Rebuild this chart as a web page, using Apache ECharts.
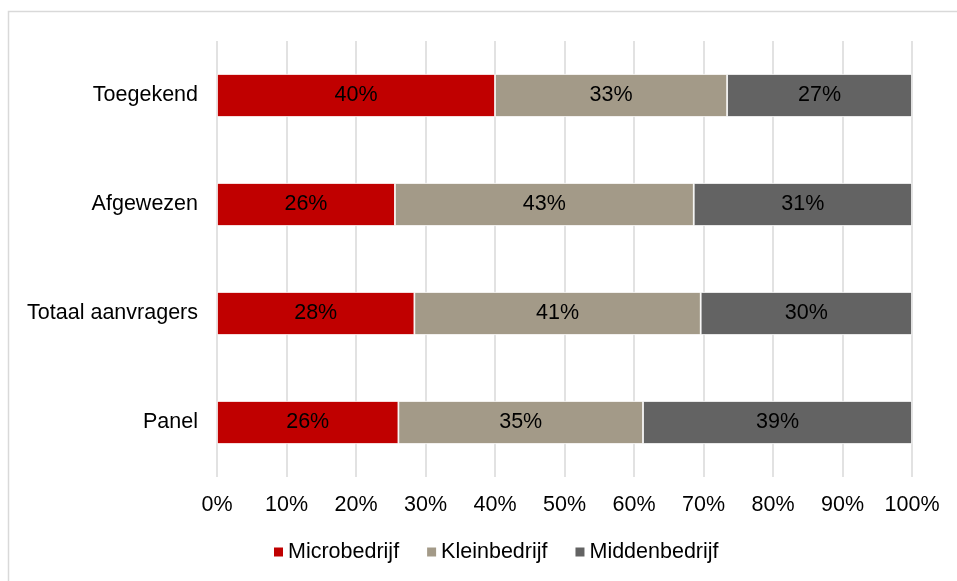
<!DOCTYPE html>
<html>
<head>
<meta charset="utf-8">
<script src="https://cdn.jsdelivr.net/npm/echarts@6/dist/echarts.min.js"></script>
<style>
html,body{margin:0;padding:0;background:#fff;}
#chart{width:957px;height:581px;}
</style>
</head>
<body>
<div id="chart"></div>
<script>
const categories = ['Toegekend', 'Afgewezen', 'Totaal aanvragers', 'Panel'];
const microbedrijf = [40.0, 25.6, 28.4, 26.1];
const kleinbedrijf = [33.4, 43.0, 41.2, 35.2];
const middenbedrijf = [26.6, 31.4, 30.4, 38.7];
const seriesNames = ['Microbedrijf', 'Kleinbedrijf', 'Middenbedrijf'];
const xTicks = [0, 10, 20, 30, 40, 50, 60, 70, 80, 90, 100];

const FONT = "'Liberation Sans', Arial, sans-serif";
const FS = 21.5;
const colors = ['#c00000', '#a39a88', '#636363'];
const chart = echarts.init(document.getElementById('chart'), null, {renderer: 'canvas'});

function mkSeries(name, data, color) {
  return {
    name: name,
    type: 'bar',
    stack: 'total',
    data: data,
    barWidth: 43,
    itemStyle: {color: color, borderColor: '#ffffff', borderWidth: 0.8},
    label: {
      show: true,
      position: 'inside',
      color: '#000',
      fontFamily: FONT,
      fontSize: FS,
      formatter: p => Math.round(p.value) + '%'
    },
    emphasis: {disabled: true}
  };
}

chart.setOption({
  animation: false,
  color: colors,
  textStyle: {fontFamily: FONT},
  graphic: [{
    type: 'rect',
    shape: {x: 8.5, y: 11.5, width: 1000, height: 1000},
    style: {fill: 'none', stroke: '#d9d9d9', lineWidth: 1.5},
    silent: true
  }],
  grid: {left: 217, right: 45, top: 41, bottom: 104, containLabel: false},
  xAxis: {
    type: 'value',
    min: xTicks[0],
    max: xTicks[xTicks.length - 1],
    interval: xTicks[1] - xTicks[0],
    axisLine: {show: false},
    axisTick: {show: false},
    splitLine: {show: true, lineStyle: {color: '#d9d9d9', width: 1.5}},
    axisLabel: {
      color: '#000',
      fontFamily: FONT,
      fontSize: FS,
      margin: 17,
      formatter: v => v + '%'
    }
  },
  yAxis: {
    type: 'category',
    data: categories,
    inverse: true,
    axisLine: {show: false},
    axisTick: {show: false},
    splitLine: {show: false},
    axisLabel: {color: '#000', fontFamily: FONT, fontSize: FS, margin: 19}
  },
  legend: {
    data: seriesNames,
    left: 267,
    top: 536,
    itemWidth: 11,
    itemHeight: 11,
    itemGap: 26,
    icon: 'rect',
    textStyle: {color: '#000', fontFamily: FONT, fontSize: FS, padding: [0, 0, 0, -1]}
  },
  series: [
    mkSeries(seriesNames[0], microbedrijf, colors[0]),
    mkSeries(seriesNames[1], kleinbedrijf, colors[1]),
    mkSeries(seriesNames[2], middenbedrijf, colors[2])
  ]
});
</script>
</body>
</html>
